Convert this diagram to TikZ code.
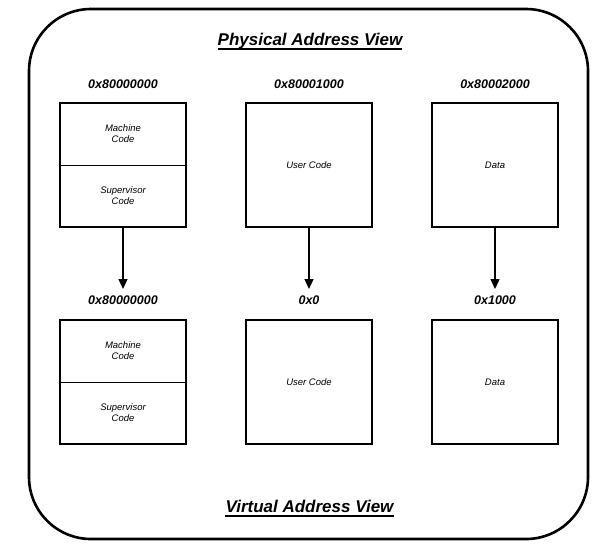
\documentclass[tikz,border=0pt]{standalone}
\usepackage{fontspec}
\setmainfont{Liberation Sans}
\usetikzlibrary{arrows.meta}
\begin{document}
\begin{tikzpicture}[x=1pt,y=-1pt,
  memblock/.style={draw=black,line width=1.8pt,minimum width=126pt,minimum height=124pt,inner sep=0pt,font=\fontsize{9.5}{11}\selectfont\itshape},
  half/.style={minimum width=126pt,minimum height=62pt,inner sep=0pt,font=\fontsize{9.5}{11}\selectfont\itshape,align=center},
  addr/.style={anchor=base,inner sep=0pt,font=\fontsize{12.5}{14}\selectfont\bfseries\itshape},
  heading/.style={anchor=base,inner sep=0pt,font=\fontsize{17}{19}\selectfont\bfseries\itshape},
  uline/.style={line width=1.3pt},
  maparrow/.style={-{Triangle[length=10pt,width=9pt]},line width=1.3pt}]
\useasboundingbox (0,0) rectangle (609,544);
\draw[line width=2.6pt,rounded corners=62pt] (29,9) rectangle (588,539);
\node[heading] (ptitle) at (310,45) {Physical Address View};
\draw[uline] ([yshift=-4pt]ptitle.base west) -- ([yshift=-4pt]ptitle.base east);
\node[heading] (vtitle) at (309.5,512) {Virtual Address View};
\draw[uline] ([yshift=-4pt]vtitle.base west) -- ([yshift=-4pt]vtitle.base east);
% row 1
\node[addr] (pa1) at (123,88) {0x80000000};
\node[addr] (pa2) at (309,88) {0x80001000};
\node[addr] (pa3) at (495,88) {0x80002000};
\node[memblock] (p1) at (123,165) {};
\node[half] (p1m) at (123,134) {Machine\\Code};
\node[half] (p1s) at (123,196) {Supervisor\\Code};
\draw[line width=0.8pt] (p1.west |- 0,165) -- (p1.east |- 0,165);
\node[memblock] (p2) at (309,165) {User Code};
\node[memblock] (p3) at (495,165) {Data};
% row 2
\node[addr] (va1) at (123,304) {0x80000000};
\node[addr] (va2) at (309,304) {0x0};
\node[addr] (va3) at (495,304) {0x1000};
\node[memblock] (v1) at (123,382) {};
\node[half] (v1m) at (123,351) {Machine\\Code};
\node[half] (v1s) at (123,413) {Supervisor\\Code};
\draw[line width=0.8pt] (v1.west |- 0,382) -- (v1.east |- 0,382);
\node[memblock] (v2) at (309,382) {User Code};
\node[memblock] (v3) at (495,382) {Data};
% arrows
\coordinate (t1) at (123,289);
\coordinate (t2) at (309,289);
\coordinate (t3) at (495,289);
\draw[maparrow] (p1.south) -- (t1);
\draw[maparrow] (p2.south) -- (t2);
\draw[maparrow] (p3.south) -- (t3);
\end{tikzpicture}
\end{document}
